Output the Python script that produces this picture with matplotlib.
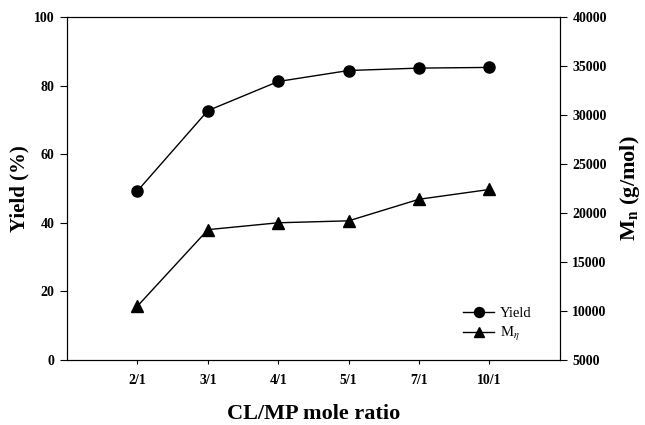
import matplotlib
matplotlib.use('Agg')
from matplotlib import pyplot as plt

plt.rcParams['font.family'] = ['Liberation Serif', 'DejaVu Serif']
plt.rcParams['mathtext.fontset'] = 'stix'

ratios = ['2/1', '3/1', '4/1', '5/1', '7/1', '10/1']
yield_pct = [49.3, 72.7, 81.2, 84.4, 85.1, 85.3]
mn = [10500, 18300, 19000, 19200, 21400, 22400]

x = list(range(len(ratios)))

fig = plt.figure(figsize=(6.45, 4.25), dpi=100)
ax = fig.add_axes([0.104, 0.153, 0.764, 0.807])
ax2 = ax.twinx()

l1, = ax.plot(x, yield_pct, '-o', color='black', lw=1, markersize=8, label='Yield')
l2, = ax2.plot(x, mn, '-^', color='black', lw=1, markersize=8, label=r'M$_\eta$')

ax.set_xlim(-1, 6)
ax.set_ylim(0, 100)
ax2.set_ylim(5000, 40000)
ax.set_xticks(x)
ax.set_xticklabels(ratios)
ax.set_yticks(range(0, 101, 20))
ax2.set_yticks(range(5000, 40001, 5000))

for a in (ax, ax2):
    a.tick_params(direction='out', length=5, width=0.8, labelsize=10, pad=4)
    for lab in a.get_xticklabels() + a.get_yticklabels():
        lab.set_fontweight('bold')
    for s in a.spines.values():
        s.set_linewidth(0.8)
ax.tick_params(axis='x', length=3, pad=7)

ax.set_xlabel('CL/MP mole ratio', fontsize=16, fontweight='bold', labelpad=12)
ax.set_ylabel('Yield (%)', fontsize=15, fontweight='bold', labelpad=3)
ax2.set_ylabel(r'M$_\mathbf{n}$ (g/mol)', fontsize=16, fontweight='bold', labelpad=8)

ax.legend(handles=[l1, l2], loc='lower right', frameon=False, fontsize=10.5,
          bbox_to_anchor=(0.969, 0.012), handlelength=2.1, markerscale=0.9,
          labelspacing=0.3, handletextpad=0.4)

plt.savefig('out.png', dpi=100)
